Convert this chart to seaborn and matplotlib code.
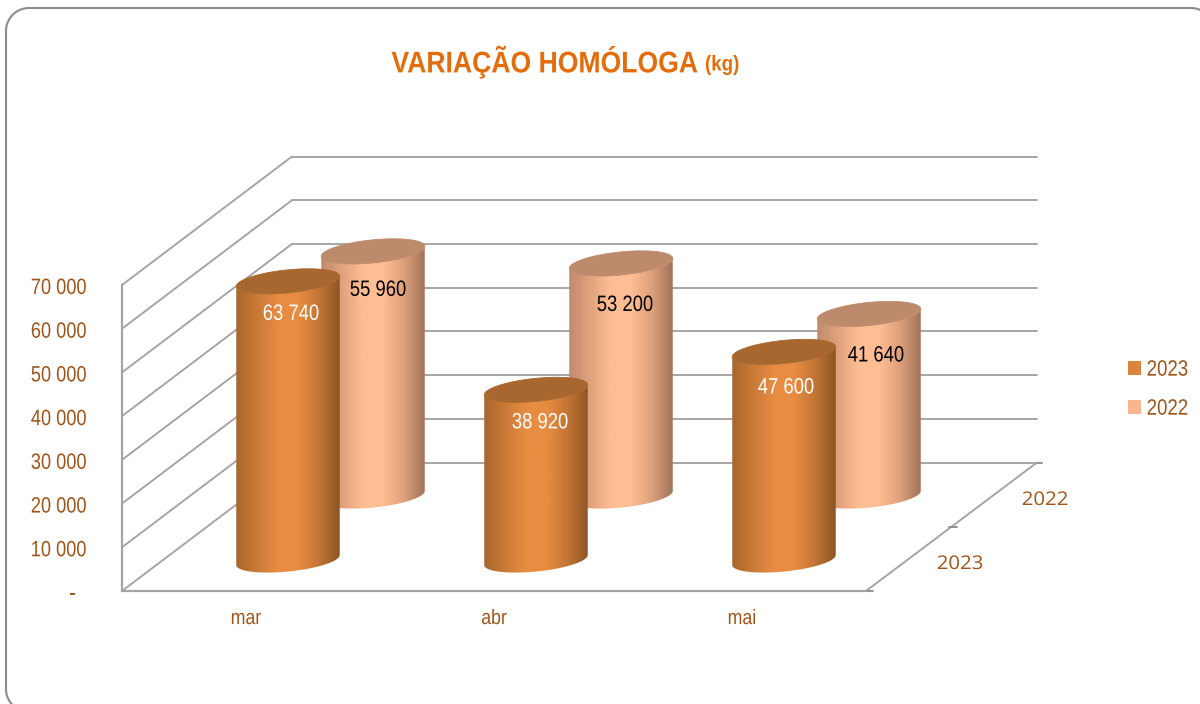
import numpy as np
import pandas as pd
import matplotlib
matplotlib.use("Agg")
import matplotlib.pyplot as plt
from matplotlib.colors import LinearSegmentedColormap
from matplotlib.patches import Polygon, Patch
from matplotlib.patheffects import AbstractPathEffect
from matplotlib.transforms import Affine2D
import seaborn as sns

# ---- data ----
months = ["mar", "abr", "mai"]
values_2023 = [63740, 38920, 47600]
values_2022 = [55960, 53200, 41640]
value_ticks = [0, 10000, 20000, 30000, 40000, 50000, 60000, 70000]
series_names = ["2023", "2022"]
title_main = "VARIAÇÃO HOMÓLOGA"
title_unit = "(kg)"

# ---- style ----
W, H = 1200, 704
sns.set_theme(style="white")
plt.rcParams["font.family"] = ["Liberation Sans", "DejaVu Sans"]
BROWN = "#A0541A"
GRID = "#A3A3A3"
TITLE = "#E46C0A"
FRONT_STOPS = ["#A9652C", "#C97A37", "#E88C42", "#E88C42", "#C27534", "#8C5525"]
BACK_STOPS = ["#BF8B6D", "#E0A27C", "#FFBD93", "#FFBD93", "#DDA07C", "#A0735A"]
FRONT_CAP, BACK_CAP = "#A8672E", "#BE8A6C"
LW = 1.35


class Squeeze(AbstractPathEffect):
    """Narrow a real text around its anchor (the reference font is condensed)."""

    def __init__(self, text, sx, dy=0.0, dx=0.0):
        super().__init__()
        self.text, self.sx, self.dy, self.dx = text, sx, dy, dx

    def draw_path(self, renderer, gc, tpath, affine, rgbFace=None):
        x0 = self.text.get_transform().transform(self.text.get_position())[0]
        extra = Affine2D().translate(-x0, 0).scale(self.sx, 1).translate(x0 + self.dx, -self.dy)
        renderer.draw_path(gc, tpath, affine + extra, rgbFace)


def squeeze(text, sx, dy=0.0, dx=0.0):
    text.set_path_effects([Squeeze(text, sx, dy, dx)])
    return text


fig = plt.figure(figsize=(W / 100, H / 100), dpi=100, facecolor="white")


def axes_px(left, top, right, bottom, **kw):
    return fig.add_axes([left / W, 1 - bottom / H, (right - left) / W, (bottom - top) / H], **kw)


# pixel overlay for the frame and the walls' diagonals
ax_px = axes_px(0, 0, W, H, zorder=0)
ax_px.set_xlim(0, W)
ax_px.set_ylim(H, 0)
ax_px.axis("off")

# rounded frame: bottom-left arc, left side, top-left arc, top side, top-right arc
fl, ft, fr, fb, rad = 6, 8, 1214, 712, 23
arc = np.linspace(0, np.pi / 2, 24)
frame_x = np.r_[fl + rad - rad * np.cos(arc[::-1]),
                fl + rad - rad * np.cos(arc),
                fr - rad + rad * np.sin(arc)]
frame_y = np.r_[fb - rad + rad * np.sin(arc[::-1]),
                ft + rad - rad * np.sin(arc),
                ft + rad - rad * np.cos(arc)]
ax_px.plot(frame_x, frame_y, color="#8C8C8C", lw=1.5, clip_on=False)

TOP_V = value_ticks[-1]
FRONT_Y0, BACK_Y0, SPAN = 591, 462.5, 306
px_per_v = SPAN / TOP_V

# back wall: gridlines from the value axis
ax_wall = axes_px(292, BACK_Y0 - SPAN, 1037, BACK_Y0, zorder=1, facecolor="none")
ax_wall.set_ylim(0, TOP_V)
ax_wall.set_yticks(value_ticks)
ax_wall.set_xticks([])
ax_wall.set_yticklabels([])
ax_wall.grid(True, axis="y", color=GRID, lw=LW)
for gl in ax_wall.get_ygridlines():
    gl.set_clip_on(False)
ax_wall.tick_params(length=0)
sns.despine(ax=ax_wall, left=True, bottom=True, top=True, right=True)

# side wall and floor
for v in value_ticks:
    ax_px.plot([122, 292], [FRONT_Y0 - v * px_per_v, BACK_Y0 - v * px_per_v], color=GRID, lw=LW,
               solid_capstyle="round")
ax_px.plot([866, 1037], [FRONT_Y0, BACK_Y0], color=GRID, lw=LW)
ax_px.plot([866, 873], [FRONT_Y0, FRONT_Y0], color="#8C8C8C", lw=LW)
ax_px.plot([1037, 1042], [BACK_Y0, BACK_Y0], color="#8C8C8C", lw=LW)
ax_px.plot([949, 957], [526.5, 526.5], color="#8C8C8C", lw=LW)
squeeze(ax_px.text(960, 564, series_names[0], family="Open Sans", fontsize=13.6, color=BROWN,
                   ha="center", va="center"), 1.08)
squeeze(ax_px.text(1045, 500, series_names[1], family="Open Sans", fontsize=13.6, color=BROWN,
                   ha="center", va="center"), 1.08)

# front value/category axis
ax_left = axes_px(122, FRONT_Y0 - SPAN, 866, FRONT_Y0, zorder=2, facecolor="none")
ax_left.set_xlim(-0.5, len(months) - 0.5)
ax_left.set_ylim(0, TOP_V)
ax_left.set_xticks(range(len(months)), months)
ax_left.set_yticks(value_ticks, ["-"] + [f"{v:,}".replace(",", " ") for v in value_ticks[1:]])
ax_left.tick_params(axis="y", length=0, pad=25.5, labelsize=16, labelcolor=BROWN)
ax_left.tick_params(axis="x", length=0, pad=13, labelsize=15, labelcolor=BROWN)
for v, lab in zip(value_ticks, ax_left.get_yticklabels()):
    lab.set_verticalalignment("center")
    squeeze(lab, 0.82, 3.5, -11 if v == 0 else 0)
for lab in ax_left.get_xticklabels():
    squeeze(lab, 0.85)
sns.despine(ax=ax_left, top=True, right=True)
for s in ("left", "bottom"):
    ax_left.spines[s].set_color(GRID)
    ax_left.spines[s].set_linewidth(LW + 0.2)

TILT = np.deg2rad(5.8)
CAP_B = 11.5
BELOW = 30  # pixels kept under the baseline for the curved cylinder bottom


def cylinders(left_px, base_px, values, stops, cap, z, label_color, label_dx, label_dy):
    ax = axes_px(left_px, base_px - SPAN, left_px + 744, base_px + BELOW, zorder=z, facecolor="none")
    df = pd.DataFrame({"mes": months, "valor": values})
    sns.barplot(data=df, x="mes", y="valor", ax=ax, color=stops[2], width=104 / 248, saturation=1,
                errorbar=None)
    sx, sy = 248.0, px_per_v   # pixels per data unit
    cmap = LinearSegmentedColormap.from_list("cyl", stops)
    grad = np.linspace(0, 1, 256)[None, :]
    t_full = np.linspace(0, 2 * np.pi, 181)
    t_low = np.linspace(np.pi, 2 * np.pi, 91)
    for bar, val, dx, dy in zip(list(ax.patches), values, label_dx, label_dy):
        bar.set_alpha(0)
        cx = bar.get_x() + bar.get_width() / 2
        a = bar.get_width() * sx / 2

        def ellipse(t, h):
            ex = a * np.cos(t) * np.cos(TILT) - CAP_B * np.sin(t) * np.sin(TILT)
            ey = a * np.cos(t) * np.sin(TILT) + CAP_B * np.sin(t) * np.cos(TILT)
            return np.column_stack([cx + ex / sx, h + ey / sy])

        body = np.vstack([ellipse(t_low, 0), ellipse(t_low[::-1], val)])
        poly = Polygon(body, closed=True, fc="none", ec="none", transform=ax.transData, zorder=3)
        ax.add_patch(poly)
        im = ax.imshow(grad, cmap=cmap, aspect="auto", interpolation="bilinear", zorder=3,
                       extent=(cx - a / sx, cx + a / sx, -BELOW / sy, val + BELOW / sy))
        im.set_clip_path(poly)
        ax.add_patch(Polygon(ellipse(t_full, val), closed=True, fc=cap, ec=cap, lw=0.6, zorder=4,
                             transform=ax.transData, clip_on=False))
        lab = ax.text(cx + dx / sx, val - dy / sy, f"{val:,}".replace(",", " "), color=label_color,
                      ha="center", va="center", fontsize=16, zorder=5)
        squeeze(lab, 0.83, 2)
    ax.set_xlim(-0.5, len(months) - 0.5)
    ax.set_ylim(-BELOW / sy, TOP_V)
    ax.axis("off")
    return ax


cylinders(249, 496, values_2022, BACK_STOPS, BACK_CAP, 3, "black", [5, 4, 7], [37, 40, 40])
cylinders(164, 560, values_2023, FRONT_STOPS, FRONT_CAP, 4, "white", [3, 4, 2], [31, 31, 34])

# title
squeeze(ax_px.text(698, 62, title_main, fontsize=21.5, fontweight="bold", color=TITLE,
                   ha="right", va="center"), 0.89)
squeeze(ax_px.text(705, 65, title_unit, fontsize=15.5, fontweight="bold", color=TITLE,
                   ha="left", va="center"), 0.87)

# legend
handles = [Patch(fc="#DC843D", ec="none", label=series_names[0]),
           Patch(fc="#F8B68F", ec="none", label=series_names[1])]
leg = fig.legend(handles=handles, loc="upper left", bbox_to_anchor=(1121 / W, 1 - 353 / H), frameon=False,
                 labelcolor=BROWN, fontsize=16, handlelength=0.585, handleheight=0.585,
                 handletextpad=0.27, labelspacing=0.81, borderpad=0.3, borderaxespad=0)
for lab in leg.get_texts():
    squeeze(lab, 0.84)

fig.savefig("out.png", dpi=100, facecolor="white")
